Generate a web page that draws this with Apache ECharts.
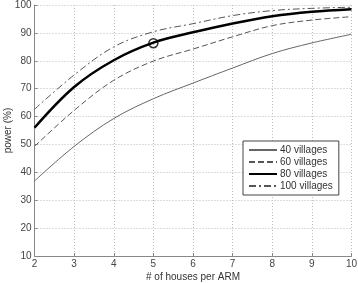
<!DOCTYPE html>
<html>
<head>
<meta charset="utf-8">
<script src="https://cdn.jsdelivr.net/npm/echarts@6/dist/echarts.min.js"></script>
<style>
  html, body { margin: 0; padding: 0; background: #fff; }
  #chart { width: 358px; height: 283px; }
</style>
</head>
<body>
<div id="chart"></div>
<script>
// houses per ARM
const houses = [2, 3, 4, 5, 6, 7, 8, 9, 10]

// power (%) per number of villages
const villages40 = [36.9, 49.3, 59.3, 66.4, 72.0, 77.4, 82.6, 86.4, 89.5]
const villages60 = [49.3, 62.2, 73.0, 79.9, 84.2, 88.6, 92.6, 94.6, 95.8]
const villages80 = [56.0, 70.6, 80.2, 86.5, 90.2, 93.4, 96.0, 97.6, 98.5]
const villages100 = [62.6, 74.9, 85.0, 90.4, 93.3, 96.2, 98.0, 98.8, 99.2]

// highlighted point
const markX = [5]
const markY = [86.3]

const yTicks = { min: 10, max: 100, step: 10 }
const xTicks = { min: 2, max: 10, step: 1 }

const chart = echarts.init(document.getElementById('chart'))

const toPairs = (ys) => houses.map((x, i) => [x, ys[i]])

const lineSeries = (name, ys, color, width, type) => ({
  name: name,
  type: 'line',
  data: toPairs(ys),
  smooth: 0.35,
  symbol: 'none',
  lineStyle: { color: color, width: width, type: type },
  itemStyle: { color: color }
})

const font = 'Liberation Sans'

const option = {
  animation: false,
  grid: { left: 34.5, right: 6.5, top: 5, bottom: 27, containLabel: false, outerBoundsMode: 'none' },
  legend: {
    orient: 'vertical',
    left: 243,
    top: 141,
    padding: [4, 6, 4, 5],
    itemGap: 2,
    itemWidth: 28,
    itemHeight: 11,
    borderColor: '#444',
    borderWidth: 1,
    borderRadius: 0,
    backgroundColor: '#fff',
    itemStyle: { opacity: 0 },
    textStyle: { fontFamily: font, fontSize: 10, color: '#333', padding: [0, 0, 0, -2] },
    data: ['40 villages', '60 villages', '80 villages', '100 villages']
  },
  xAxis: {
    type: 'value',
    min: xTicks.min,
    max: xTicks.max,
    interval: xTicks.step,
    name: '# of houses per ARM',
    nameLocation: 'middle',
    nameGap: 16,
    nameMoveOverlap: false,
    nameTextStyle: { fontFamily: font, fontSize: 10, color: '#333' },
    axisLine: { lineStyle: { color: '#888', width: 1 } },
    axisTick: { inside: true, length: 3, lineStyle: { color: '#888' } },
    axisLabel: { fontFamily: font, fontSize: 10, color: '#444', margin: 3 },
    splitLine: { show: true, lineStyle: { color: '#bbb', type: [1, 2], width: 1 } }
  },
  yAxis: {
    type: 'value',
    min: yTicks.min,
    max: yTicks.max,
    interval: yTicks.step,
    name: 'power (%)',
    nameLocation: 'middle',
    nameGap: 21,
    nameMoveOverlap: false,
    nameTextStyle: { fontFamily: font, fontSize: 10, color: '#333' },
    axisLine: { show: true, lineStyle: { color: '#888', width: 1 } },
    axisTick: { show: true, inside: true, length: 3, lineStyle: { color: '#888' } },
    axisLabel: { fontFamily: font, fontSize: 10, color: '#444', margin: 3 },
    splitLine: { show: true, lineStyle: { color: '#bbb', type: [1, 2], width: 1 } }
  },
  series: [
    lineSeries('40 villages', villages40, '#666', 1, 'solid'),
    lineSeries('60 villages', villages60, '#555', 1, [6, 3]),
    lineSeries('80 villages', villages80, '#000', 2.5, 'solid'),
    lineSeries('100 villages', villages100, '#555', 1, [7, 3, 2, 3]),
    {
      name: 'mark',
      type: 'scatter',
      data: markX.map((x, i) => [x, markY[i]]),
      symbol: 'circle',
      symbolSize: 9,
      itemStyle: { color: 'rgba(0,0,0,0)', borderColor: '#000', borderWidth: 1.5 },
      z: 5
    }
  ]
}

chart.setOption(option)
</script>
</body>
</html>
